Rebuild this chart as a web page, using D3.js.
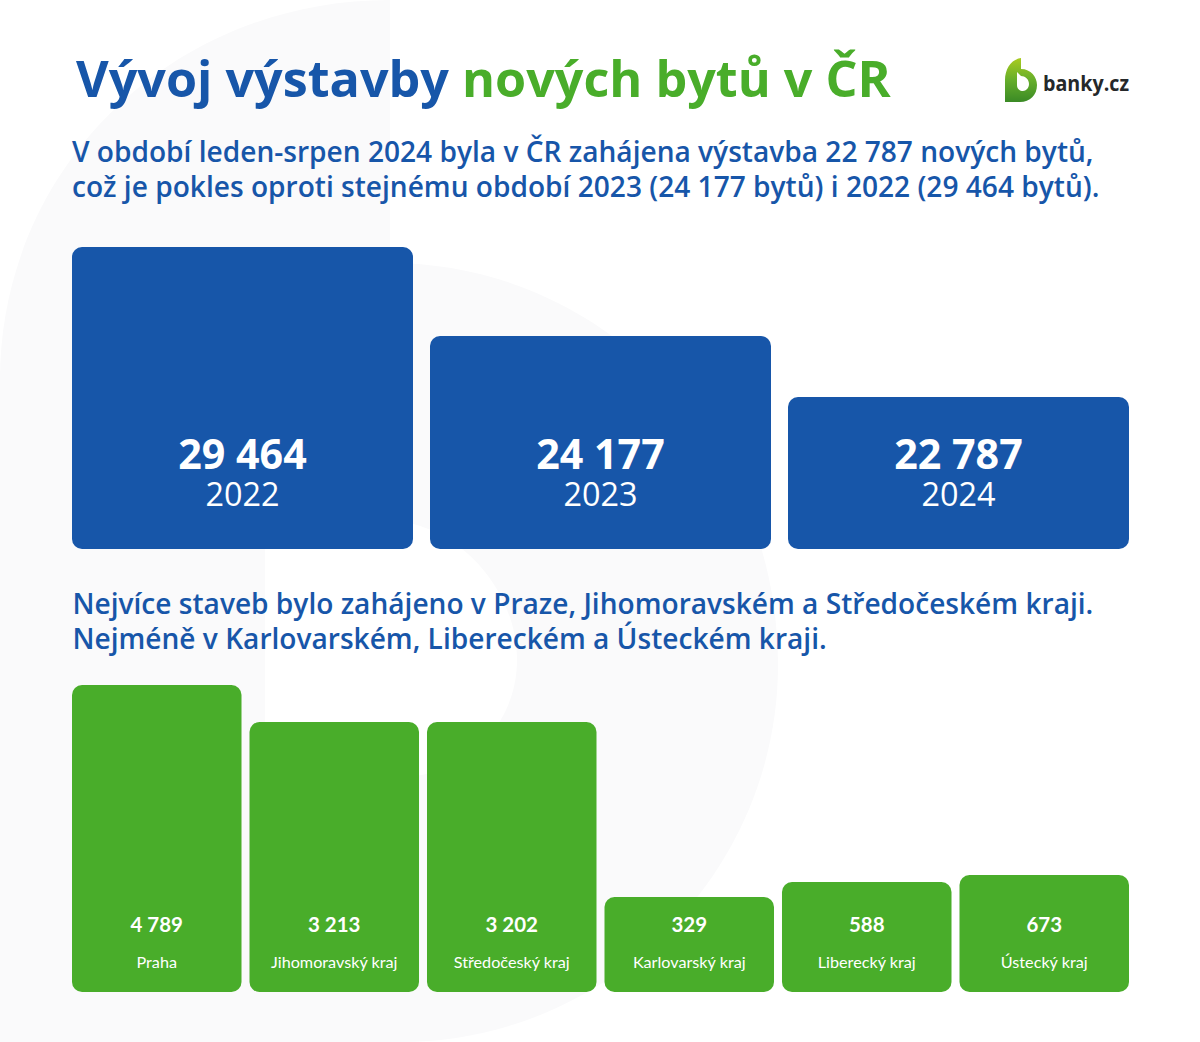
<!DOCTYPE html>
<html lang="cs">
  <head>
    <meta charset="UTF-8" />
    <title>Vývoj výstavby nových bytů v ČR</title>
    <script src="https://d3js.org/d3.v7.min.js"></script>
    <style>
      html, body { margin: 0; padding: 0; background: #fff; }
      svg { display: block; }
      .heading { font-family: "Open Sans", sans-serif; font-weight: 700; font-size: 50.3px; }
      .intro { font-family: "Open Sans", sans-serif; font-weight: 600; font-size: 28.1px; fill: #1756a9; }
      .yearValue { font-family: "Open Sans", sans-serif; font-weight: 700; font-size: 41.2px; fill: #fff; text-anchor: middle; }
      .yearLabel { font-family: "Open Sans", sans-serif; font-weight: 400; font-size: 32.4px; fill: #fff; text-anchor: middle; }
      .regionValue { font-family: Lato, sans-serif; font-weight: 700; font-size: 20.5px; fill: #fff; text-anchor: middle; }
      .regionLabel { font-family: Lato, sans-serif; font-weight: 400; font-size: 16.2px; fill: #fff; text-anchor: middle; }
      .brand { font-family: "Open Sans", sans-serif; font-weight: 700; font-size: 21px; fill: #25282a; }
    </style>
  </head>
  <body>
    <svg id="chart" width="1200" height="1042" role="img" aria-label="Vývoj výstavby nových bytů v ČR"></svg>
    <script>
      const years = ["2022", "2023", "2024"];
      const yearValues = [29464, 24177, 22787];

      const regions = [
        "Praha",
        "Jihomoravský kraj",
        "Středočeský kraj",
        "Karlovarský kraj",
        "Liberecký kraj",
        "Ústecký kraj",
      ];
      const regionValues = [4789, 3213, 3202, 329, 588, 673];

      const titleParts = ["Vývoj výstavby ", "nových bytů v ČR"];
      const introTop = [
        "V období leden-srpen 2024 byla v ČR zahájena výstavba 22 787 nových bytů,",
        "což je pokles oproti stejnému období 2023 (24 177 bytů) i 2022 (29 464 bytů).",
      ];
      const introBottom = [
        "Nejvíce staveb bylo zahájeno v Praze, Jihomoravském a Středočeském kraji.",
        "Nejméně v Karlovarském, Libereckém a Ústeckém kraji.",
      ];

      const blue = "#1756a9";
      const green = "#49ad2a";

      const svg = d3.select("#chart");
      const fmt = d3.formatLocale({
        decimal: ",",
        thousands: " ",
        grouping: [3],
        currency: ["", ""],
      }).format(",d");

      // faint logo watermark behind everything
      svg
        .append("path")
        .attr(
          "d",
          "M0,1042 L0,380 C0,170 170,0 390,0 L390,263 C600,263 778,440 778,665 C778,870 610,1042 400,1042 Z " +
            "M265,515 L390,520 C460,525 517,590 517,660 C517,725 465,777 400,777 L265,777 Z"
        )
        .attr("fill", "#fafafb")
        .attr("fill-rule", "evenodd");

      // heading
      const title = svg.append("text").attr("class", "heading").attr("x", 76).attr("y", 97);
      title.append("tspan").attr("fill", blue).text(titleParts[0]);
      title.append("tspan").attr("fill", green).text(titleParts[1]);

      function intro(lines, x, y) {
        svg
          .selectAll(null)
          .data(lines)
          .enter()
          .append("text")
          .attr("class", "intro")
          .attr("x", x)
          .attr("y", (d, i) => y + i * 35)
          .text((d) => d);
      }
      intro(introTop, 72, 162);
      intro(introBottom, 72.5, 614);

      // logo
      const defs = svg.append("defs");
      const grad = defs
        .append("linearGradient")
        .attr("id", "logoFill")
        .attr("x1", 0)
        .attr("y1", 0)
        .attr("x2", 0)
        .attr("y2", 1);
      grad.append("stop").attr("offset", "0").attr("stop-color", "#a9cb1f");
      grad.append("stop").attr("offset", "0.5").attr("stop-color", "#66ae2b");
      grad.append("stop").attr("offset", "1").attr("stop-color", "#3a8a25");

      svg
        .append("path")
        .attr(
          "d",
          "M1005,102 L1005,80 C1005,68 1012,59 1021,58 L1021,69 C1031,69 1037,77 1037,85 C1037,95 1030,102 1020,102 Z " +
            "M1017,72 L1017,85 C1017,89 1020,91 1023,91 C1026,91 1029,88 1029,84 C1029,79 1025,76 1021,76 Z"
        )
        .attr("fill", "url(#logoFill)")
        .attr("fill-rule", "evenodd");
      svg
        .append("text")
        .attr("class", "brand")
        .attr("x", 1043)
        .attr("y", 91)
        .attr("textLength", 86)
        .attr("lengthAdjust", "spacingAndGlyphs")
        .text("banky.cz");

      // years panel, heights are not proportional in the original so the scale has several stops
      const yearBottom = 549;
      const xYear = d3.scaleBand().domain(years).range([72, 1129]).paddingInner(0.0475);
      const yYear = d3.scaleLinear().domain([22787, 24177, 29464]).range([397, 336, 247]);

      const yearBars = svg
        .selectAll("g.year")
        .data(years)
        .enter()
        .append("g")
        .attr("class", "year");
      yearBars
        .append("rect")
        .attr("x", (d) => xYear(d))
        .attr("y", (d, i) => yYear(yearValues[i]))
        .attr("width", xYear.bandwidth())
        .attr("height", (d, i) => yearBottom - yYear(yearValues[i]))
        .attr("rx", 10)
        .attr("fill", blue);
      yearBars
        .append("text")
        .attr("class", "yearValue")
        .attr("x", (d) => xYear(d) + xYear.bandwidth() / 2)
        .attr("y", yearBottom - 80)
        .text((d, i) => fmt(yearValues[i]));
      yearBars
        .append("text")
        .attr("class", "yearLabel")
        .attr("x", (d) => xYear(d) + xYear.bandwidth() / 2)
        .attr("y", yearBottom - 43)
        .text((d) => d);

      // regions panel
      const regionBottom = 992;
      const xRegion = d3.scaleBand().domain(regions).range([72, 1129]).paddingInner(0.045);
      const yRegion = d3
        .scaleLinear()
        .domain([329, 588, 673, 3202, 3213, 4789])
        .range([897, 882, 875, 722, 722, 685]);

      const regionBars = svg
        .selectAll("g.region")
        .data(regions)
        .enter()
        .append("g")
        .attr("class", "region");
      regionBars
        .append("rect")
        .attr("x", (d) => xRegion(d))
        .attr("y", (d, i) => yRegion(regionValues[i]))
        .attr("width", xRegion.bandwidth())
        .attr("height", (d, i) => regionBottom - yRegion(regionValues[i]))
        .attr("rx", 10)
        .attr("fill", green);
      regionBars
        .append("text")
        .attr("class", "regionValue")
        .attr("x", (d) => xRegion(d) + xRegion.bandwidth() / 2)
        .attr("y", regionBottom - 60)
        .text((d, i) => fmt(regionValues[i]));
      regionBars
        .append("text")
        .attr("class", "regionLabel")
        .attr("x", (d) => xRegion(d) + xRegion.bandwidth() / 2)
        .attr("y", regionBottom - 24)
        .text((d) => d);
    </script>
  </body>
</html>
